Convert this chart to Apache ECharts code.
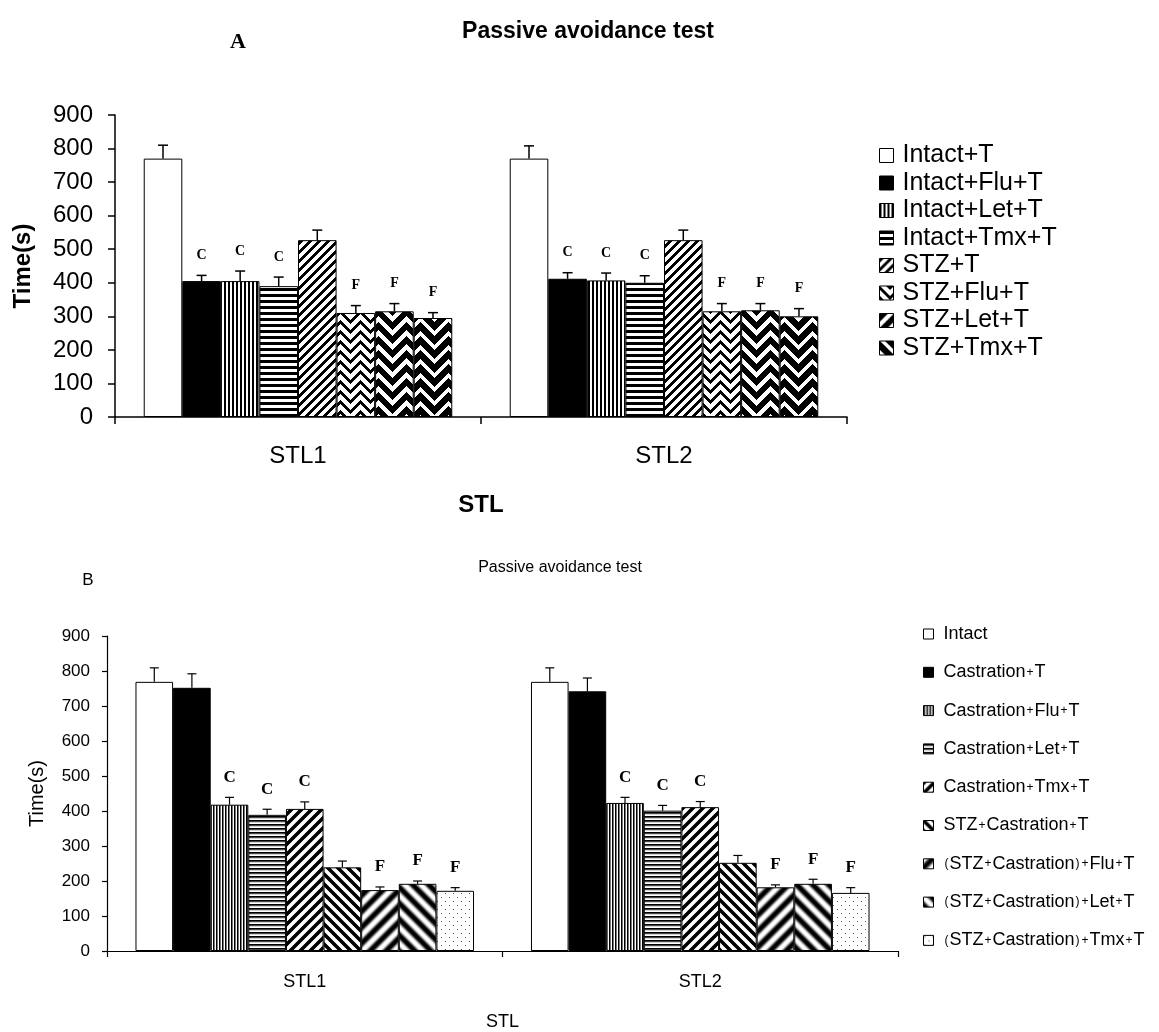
<!DOCTYPE html>
<html><head><meta charset="utf-8">
<script src="https://cdn.jsdelivr.net/npm/echarts@6/dist/echarts.min.js"></script>
<style>html,body{margin:0;padding:0;background:#fff}#c{width:1159px;height:1032px}</style>
</head><body><div id="c"></div><script>
// ---------- data ----------
const categories = ['STL1', 'STL2'];

const seriesNamesA = ['Intact+T', 'Intact+Flu+T', 'Intact+Let+T', 'Intact+Tmx+T', 'STZ+T', 'STZ+Flu+T', 'STZ+Let+T', 'STZ+Tmx+T'];
const stl1ValuesA = [770, 405, 405, 390, 527, 310, 315, 295];
const stl2ValuesA = [770, 412, 407, 400, 527, 315, 318, 300];
const stl1ErrorsA = [40, 17, 30, 27, 30, 22, 23, 16];
const stl2ErrorsA = [38, 18, 22, 21, 30, 23, 20, 23];
const lettersA = ['', 'C', 'C', 'C', '', 'F', 'F', 'F'];

const seriesNamesB = ['Intact', 'Castration+T', 'Castration+Flu+T', 'Castration+Let+T', 'Castration+Tmx+T', 'STZ+Castration+T', '(STZ+Castration)+Flu+T', '(STZ+Castration)+Let+T', '(STZ+Castration)+Tmx+T'];
const stl1ValuesB = [769, 752, 418, 389, 406, 239, 174, 192, 172];
const stl2ValuesB = [769, 742, 423, 401, 411, 252, 182, 192, 166];
const stl1ErrorsB = [40, 40, 21, 16, 20, 18, 9, 8, 9];
const stl2ErrorsB = [40, 38, 16, 15, 16, 21, 7, 13, 15];
const lettersB = ['', '', 'C', 'C', 'C', '', 'F', 'F', 'F'];

// ---------- patterns ----------
function mod(a, n) { return ((a % n) + n) % n; }
function tile(w, h, fn) {
  const c = document.createElement('canvas'); c.width = w; c.height = h;
  const ctx = c.getContext('2d'); const img = ctx.createImageData(w, h);
  for (let y = 0; y < h; y++) for (let x = 0; x < w; x++) {
    const v = Math.max(0, Math.min(255, Math.round(fn(x, y))));
    const i = (y * w + x) * 4; img.data[i] = v; img.data[i + 1] = v; img.data[i + 2] = v; img.data[i + 3] = 255;
  }
  ctx.putImageData(img, 0, 0);
  return { image: c, repeat: 'repeat' };
}
function soft(t, p) { return 255 * Math.max(0, Math.min(1, 0.5 - 1.3 * Math.cos(2 * Math.PI * t / p))); }

const patternsA = [
  '#ffffff',
  '#000000',
  tile(4, 1, (x) => x < 2 ? 0 : 255),
  tile(1, 6, (x, y) => y < 3 ? 0 : 255),
  tile(9, 9, (x, y) => mod(x + y, 9) < 4 ? 0 : 255),
  tile(20, 10, (x, y) => (x < 10 ? mod(y - x, 10) : mod(y + x, 10)) < 4 ? 0 : 255),
  tile(28, 14, (x, y) => (x < 14 ? mod(y + x, 14) : mod(y - x, 14)) < 8 ? 0 : 255),
  tile(28, 14, (x, y) => (x < 14 ? mod(y - x, 14) : mod(y + x, 14)) < 9 ? 0 : 255)
];
const patternsB = [
  '#ffffff',
  '#000000',
  tile(3, 1, (x) => [0, 120, 255][x]),
  tile(1, 4, (x, y) => [0, 70, 210, 255][y]),
  tile(10, 10, (x, y) => soft(mod(x + y, 10), 10)),
  tile(10, 10, (x, y) => soft(mod(x - y, 10), 10)),
  tile(16, 16, (x, y) => 127 + 160 * Math.cos(2 * Math.PI * mod(x + y, 16) / 16)),
  tile(16, 16, (x, y) => 127 + 160 * Math.cos(2 * Math.PI * mod(x - y, 16) / 16)),
  tile(8, 8, (x, y) => ((x === 1 && y === 1) || (x === 5 && y === 5)) ? 90 : 255)
];

const SANS = "'Liberation Sans', Arial, sans-serif";
const SERIF = "'Liberation Serif', 'Times New Roman', serif";
const gapA = 0.157, gapB = 0.144;

function barSeries(names, v1, v2, patterns, xi, gap) {
  return names.map((n, i) => ({
    name: n, type: 'bar', xAxisIndex: xi, yAxisIndex: xi,
    data: [v1[i], v2[i]],
    barGap: '0%', barCategoryGap: (gap * 100) + '%',
    itemStyle: { color: patterns[i], borderColor: '#000', borderWidth: 1 },
    emphasis: { disabled: true }, animation: false
  }));
}
function errorSeries(names, v1, v2, e1, e2, letters, xi, gap, lw, font, cap) {
  const n = names.length, data = [], lets = [];
  for (let s = 0; s < n; s++) {
    data.push([0, s, v1[s], e1[s]]); lets.push(letters[s]);
    data.push([1, s, v2[s], e2[s]]); lets.push(letters[s]);
  }
  return {
    type: 'custom', name: 'err' + xi, xAxisIndex: xi, yAxisIndex: xi, z: 10, silent: true, animation: false,
    data, encode: { x: 0, y: 2 },
    renderItem(params, api) {
      const c = api.value(0), s = api.value(1), v = api.value(2), e = api.value(3);
      const band = api.size([1, 0])[0];
      const inner = band * (1 - gap), bw = inner / n;
      const center = api.coord([c, 0])[0];
      const x = center - inner / 2 + bw * (s + 0.5);
      const y0 = api.coord([c, v])[1], y1 = api.coord([c, v + e])[1];
      const ch = [
        { type: 'line', shape: { x1: x, y1: y0, x2: x, y2: y1 }, style: { stroke: '#000', lineWidth: lw } },
        { type: 'line', shape: { x1: x - cap, y1: y1, x2: x + cap, y2: y1 }, style: { stroke: '#000', lineWidth: lw } }
      ];
      const L = lets[params.dataIndex];
      if (L) ch.push({ type: 'text', x: x, y: y1 - 20, style: { text: L, font: font, fill: '#000', align: 'center', verticalAlign: 'middle' } });
      return { type: 'group', children: ch };
    }
  };
}

const axisLine = { show: true, lineStyle: { color: '#000', width: 1.5 } };

const option = {
  backgroundColor: '#fff',
  animation: false,
  textStyle: { fontFamily: SANS, color: '#000' },
  grid: [
    { left: 115, top: 115, width: 732, height: 302, containLabel: false, outerBoundsMode: 'none' },
    { left: 107, top: 636, width: 791, height: 315, containLabel: false, outerBoundsMode: 'none' }
  ],
  xAxis: [
    { type: 'category', gridIndex: 0, data: categories, axisLine,
      axisTick: { show: true, alignWithLabel: false, length: 7, lineStyle: { color: '#000', width: 1.5 } },
      axisLabel: { fontSize: 24, color: '#000', margin: 27, fontFamily: SANS },
      name: 'STL', nameLocation: 'middle', nameGap: 76,
      nameTextStyle: { fontSize: 24, fontWeight: 'bold', color: '#000', fontFamily: SANS } },
    { type: 'category', gridIndex: 1, data: categories, axisLine: { show: true, lineStyle: { color: '#000', width: 1.2 } },
      axisTick: { show: true, alignWithLabel: false, length: 6, lineStyle: { color: '#000', width: 1.2 } },
      axisLabel: { fontSize: 18, color: '#000', margin: 22, fontFamily: SANS },
      name: 'STL', nameLocation: 'middle', nameGap: 62,
      nameTextStyle: { fontSize: 18, color: '#000', fontFamily: SANS } }
  ],
  yAxis: [
    { type: 'value', gridIndex: 0, min: 0, max: 900, interval: 100, axisLine,
      axisTick: { show: true, length: 7, lineStyle: { color: '#000', width: 1.5 } },
      splitLine: { show: false },
      axisLabel: { fontSize: 24, color: '#000', margin: 22, fontFamily: SANS },
      name: 'Time(s)', nameLocation: 'middle', nameGap: 80, nameRotate: 90,
      nameTextStyle: { fontSize: 24, fontWeight: 'bold', color: '#000', fontFamily: SANS } },
    { type: 'value', gridIndex: 1, min: 0, max: 900, interval: 100, axisLine: { show: true, lineStyle: { color: '#000', width: 1.2 } },
      axisTick: { show: true, length: 5, lineStyle: { color: '#000', width: 1.2 } },
      splitLine: { show: false },
      axisLabel: { fontSize: 17, color: '#000', margin: 17, fontFamily: SANS },
      name: 'Time(s)', nameLocation: 'middle', nameGap: 60, nameRotate: 90,
      nameTextStyle: { fontSize: 20, color: '#000', fontFamily: SANS } }
  ],
  legend: [
    { data: seriesNamesA, orient: 'vertical', left: 879, top: 143, padding: 0, itemWidth: 14, itemHeight: 14, itemGap: 2.5,
      icon: 'rect', selectedMode: false,
      itemStyle: { borderColor: '#000', borderWidth: 1 },
      textStyle: { fontSize: 25, lineHeight: 25, color: '#000', fontFamily: SANS, padding: [0, 0, 0, 4] } },
    { data: seriesNamesB, orient: 'vertical', left: 923, top: 624, padding: 0, itemWidth: 10, itemHeight: 10, itemGap: 18.3,
      icon: 'rect', selectedMode: false,
      itemStyle: { borderColor: '#000', borderWidth: 1 },
      formatter: (name) => name.replace(/[+()]/g, (m) => '{s|' + m + '}'),
      textStyle: { fontSize: 18, lineHeight: 20, color: '#000', fontFamily: SANS, padding: [0, 0, 0, 5],
        rich: { s: { fontSize: 12, fontFamily: SANS, color: '#000', padding: [0, 1, 0, 1] } } } }
  ],
  graphic: [
    { type: 'text', x: 588, y: 32, style: { text: 'Passive avoidance test', font: 'bold 23px ' + SANS, fill: '#000', align: 'center', verticalAlign: 'middle' } },
    { type: 'text', x: 238, y: 42, style: { text: 'A', font: 'bold 22px ' + SERIF, fill: '#000', align: 'center', verticalAlign: 'middle' } },
    { type: 'text', x: 560, y: 568, style: { text: 'Passive avoidance test', font: '16px ' + SANS, fill: '#000', align: 'center', verticalAlign: 'middle' } },
    { type: 'text', x: 88, y: 580, style: { text: 'B', font: '17px ' + SANS, fill: '#000', align: 'center', verticalAlign: 'middle' } }
  ],
  series: [
    ...barSeries(seriesNamesA, stl1ValuesA, stl2ValuesA, patternsA, 0, gapA),
    errorSeries(seriesNamesA, stl1ValuesA, stl2ValuesA, stl1ErrorsA, stl2ErrorsA, lettersA, 0, gapA, 1.5, 'bold 14px ' + SERIF, 5),
    ...barSeries(seriesNamesB, stl1ValuesB, stl2ValuesB, patternsB, 1, gapB),
    errorSeries(seriesNamesB, stl1ValuesB, stl2ValuesB, stl1ErrorsB, stl2ErrorsB, lettersB, 1, gapB, 1.2, 'bold 17px ' + SERIF, 4.5)
  ]
};
const chart = echarts.init(document.getElementById('c'), null, { renderer: 'canvas' });
chart.setOption(option);
</script></body></html>
